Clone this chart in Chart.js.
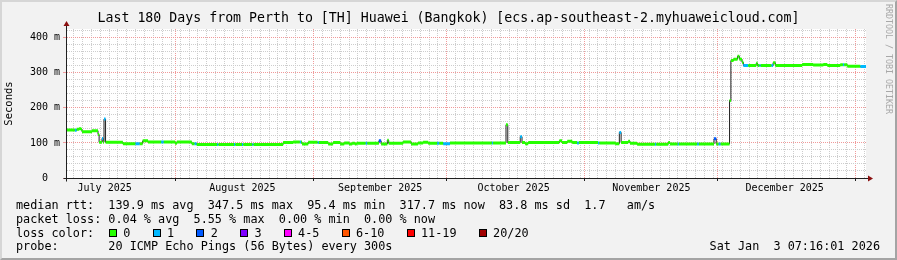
<!DOCTYPE html>
<html>
<head>
<meta charset="utf-8">
<script src="https://cdn.jsdelivr.net/npm/chart.js@4.4.1/dist/chart.umd.min.js"></script>
<style>
  html, body { margin: 0; padding: 0; }
  body { width: 897px; height: 260px; position: relative; overflow: hidden; background: #f2f2f2;
         font-family: 'DejaVu Sans Mono', monospace; color: #000; }
  #frame { position: absolute; left: 0; top: 0; width: 897px; height: 260px; box-sizing: border-box;
           border: 2px solid; border-color: #d6d6d6 #a4a4a4 #a4a4a4 #d6d6d6; }
  #chart { position: absolute; left: 0; top: 0; }
  .txt { position: absolute; white-space: pre; }
  #title { left: 0; top: 9px; width: 897px; text-align: center; font-size: 13.25px; line-height: 18px; }
  #mark { left: 884px; top: 4px; writing-mode: vertical-rl; font-size: 8.3px; line-height: 9px; color: #a8a8a8; }
  .leg { left: 16px; font-size: 11.8px; line-height: 14px; }
  .sw { position: absolute; width: 8px; height: 8px; box-sizing: border-box; border: 1px solid #000; }
</style>
</head>
<body>
<div id="frame"></div>
<canvas id="chart" width="897" height="260"></canvas>
<div id="title" class="txt">Last 180 Days from Perth to [TH] Huawei (Bangkok) [ecs.ap-southeast-2.myhuaweicloud.com]</div>
<div id="mark" class="txt">RRDTOOL / TOBI OETIKER</div>
<div id="legend"></div>
<script>
  // steps of the median rtt (day from start of graph, ms, lost pings out of 20)
  var stepDay = [0.0, 2.0, 2.4, 3.0, 3.3, 3.6, 5.85, 7.2, 7.45, 8.1, 8.35, 8.55, 8.9, 12.8, 15.6, 16.6, 17.25, 18.45,
    21.4, 22.0, 24.55, 24.95, 28.3, 28.9, 29.4, 34.0, 34.3, 37.8, 38.1, 39.6, 39.9, 41.9, 42.2, 48.85, 51.1, 52.6,
    52.9, 53.1, 54.5, 56.6, 56.9, 59.0, 60.1, 61.7, 62.6, 63.7, 64.4, 65.0, 65.4, 67.4, 67.8, 70.4, 70.9, 72.3,
    72.6, 75.85, 77.65, 79.2, 80.35, 81.5, 83.5, 84.0, 84.85, 86.4, 95.8, 96.1, 99.0, 99.4, 102.2, 102.6, 103.3,
    104.0, 111.0, 111.6, 112.8, 113.9, 115.0, 115.4, 119.7, 120.0, 123.6, 124.5, 124.9, 126.5, 126.9, 128.5, 132.5,
    132.8, 135.5, 135.9, 137.6, 137.9, 142.0, 142.4, 145.8, 146.3, 146.8, 147.3, 149.3, 149.6, 150.2, 151.1, 151.5,
    152.1, 152.4, 153.5, 155.3, 155.6, 156.0, 156.3, 158.7, 159.1, 159.6, 165.65, 168.1, 170.4, 171.3, 174.2, 174.8,
    175.1, 175.8, 178.7];
  var medianMs = [137, 136, 139, 141, 139, 132, 135, 124, 102, 113, 102, 168, 102, 98, 98, 98, 106, 103,
    103, 103, 99, 103, 98, 98, 95.5, 95.5, 95.5, 95.5, 95.5, 95.5, 95.5, 95.5, 95.5, 101, 103, 103,
    103, 97, 102, 101, 101, 97, 101, 97, 100, 97, 99, 97, 99, 99, 99, 106, 97, 108,
    99, 103, 97, 100, 102, 99, 99, 99, 98, 100, 100, 100, 152, 101, 118, 101, 98,
    101, 106, 101, 105, 101, 100, 101, 100, 100, 98, 130, 101, 105, 99, 96, 96,
    96, 101, 97, 97, 97, 97, 97, 112, 97, 97, 97, 221, 335, 339, 347.5, 339,
    330, 321, 321, 327, 321, 321, 321, 321, 329, 321, 324, 322, 324, 321, 323, 323,
    323, 319, 317.7];
  var lossPings = [0, 1, 0, 0, 0, 0, 0, 0, 0, 1, 0, 1, 0, 0, 1, 0, 0, 0,
    1, 0, 0, 0, 0, 1, 0, 1, 0, 1, 0, 1, 0, 1, 0, 0, 0, 1,
    0, 0, 0, 1, 0, 0, 0, 0, 0, 0, 0, 0, 0, 1, 0, 2, 0, 0,
    0, 0, 0, 0, 0, 0, 1, 0, 1, 0, 1, 0, 0, 0, 1, 0, 0,
    0, 0, 0, 0, 0, 1, 0, 1, 0, 0, 1, 0, 0, 0, 0, 1,
    0, 0, 0, 1, 0, 1, 0, 2, 0, 1, 0, 0, 0, 0, 0, 0,
    0, 1, 0, 0, 0, 1, 0, 1, 0, 0, 0, 0, 0, 0, 0, 1,
    0, 0, 1];
  var endDay = 180;

  var lossLabels = ['0', '1', '2', '3', '4-5', '6-10', '11-19', '20/20'];
  var lossColors = ['#26ff00', '#00b8ff', '#0059ff', '#7e00ff', '#ff00ff', '#ff5500', '#ff0000', '#a10000'];

  var yLabelValues = [0, 100, 200, 300, 400];
  var yLabelText = ['0  ', '100 m', '200 m', '300 m', '400 m'];
  var monthNames = ['July 2025', 'August 2025', 'September 2025', 'October 2025', 'November 2025', 'December 2025'];

  var statLines = [
    'median rtt:  139.9 ms avg  347.5 ms max  95.4 ms min  317.7 ms now  83.8 ms sd  1.7   am/s',
    'packet loss: 0.04 % avg  5.55 % max  0.00 % min  0.00 % now',
    'loss color:',
    'probe:       20 ICMP Echo Pings (56 Bytes) every 300s'
  ];
  var stampText = 'Sat Jan  3 07:16:01 2026';

  // time axis: days since graph start
  var startMs = Date.UTC(2025, 6, 7, 7, 16);
  function dayOf(y, m, d) { return (Date.UTC(y, m - 1, d) - startMs) / 86400000; }

  var monthStarts = [dayOf(2025, 8, 1), dayOf(2025, 9, 1), dayOf(2025, 10, 1), dayOf(2025, 11, 1), dayOf(2025, 12, 1), dayOf(2026, 1, 1)];
  var labelDays = [dayOf(2025, 7, 16), dayOf(2025, 8, 16), dayOf(2025, 9, 16), dayOf(2025, 10, 16), dayOf(2025, 11, 16), dayOf(2025, 12, 16)];
  var minorDays = [];
  var sep1 = dayOf(2025, 9, 1);
  for (var k = -30; k <= 70; k++) {
    var v = sep1 + 2 * k;
    if (v > 0 && v < endDay) minorDays.push(v);
  }
  var xLabelMap = {};
  labelDays.forEach(function (d, i) { xLabelMap[String(d)] = monthNames[i]; });
  var monthSet = {};
  monthStarts.forEach(function (d) { monthSet[String(d)] = true; });
  var minorSet = {};
  minorDays.forEach(function (d) { minorSet[String(d)] = true; });
  var xTicks = Array.from(new Set(minorDays.concat(monthStarts, labelDays))).sort(function (a, b) { return a - b; });

  var yTicks = [];
  for (var t = 0; t <= 420; t += 20) yTicks.push(t);
  var yLabelMap = {};
  yLabelValues.forEach(function (v, i) { yLabelMap[v] = yLabelText[i]; });

  function binOf(loss) {
    if (loss <= 3) return loss;
    if (loss <= 5) return 4;
    if (loss <= 10) return 5;
    if (loss <= 19) return 6;
    return 7;
  }

  // thin dark median line (shows the vertical jumps)
  var medianLine = stepDay.map(function (d, i) { return { x: d, y: medianMs[i] }; });
  medianLine.push({ x: endDay, y: medianMs[medianMs.length - 1] });

  // thick loss-coloured horizontal pieces, one dataset per loss colour
  var colourSets = lossColors.map(function () { return []; });
  stepDay.forEach(function (d, i) {
    var next = i + 1 < stepDay.length ? stepDay[i + 1] : endDay;
    var set = colourSets[binOf(lossPings[i])];
    set.push({ x: d, y: medianMs[i] }, { x: next, y: medianMs[i] }, { x: next, y: null });
  });

  var datasets = [];
  colourSets.forEach(function (pts, b) {
    if (!pts.length) return;
    datasets.push({ data: pts, borderColor: lossColors[b], borderWidth: 3, pointRadius: 0, spanGaps: false, order: 1 });
  });
  // 'before' in Chart.js = run flat to the next point, then jump
  datasets.push({ data: medianLine, stepped: 'before', borderColor: '#202020', borderWidth: 1, pointRadius: 0, order: 2 });

  var plotBg = {
    id: 'plotBg',
    beforeDraw: function (chart) {
      var a = chart.chartArea, ctx = chart.ctx;
      ctx.save();
      ctx.fillStyle = '#ffffff';
      ctx.fillRect(a.left, a.top, a.right - a.left, a.bottom - a.top);
      ctx.restore();
    }
  };
  var axisArrows = {
    id: 'axisArrows',
    afterDraw: function (chart) {
      var a = chart.chartArea, ctx = chart.ctx;
      var lx = Math.round(a.left) + 0.5, by = Math.round(a.bottom) + 0.5;
      ctx.save();
      ctx.strokeStyle = '#202020';
      ctx.lineWidth = 1;
      ctx.beginPath();
      ctx.moveTo(lx, by + 3); ctx.lineTo(lx, a.top - 4);
      ctx.moveTo(lx - 3, by); ctx.lineTo(a.right + 3, by);
      ctx.stroke();
      ctx.fillStyle = '#8b1010';
      ctx.beginPath();
      ctx.moveTo(lx, a.top - 8); ctx.lineTo(lx - 3, a.top - 3); ctx.lineTo(lx + 3, a.top - 3); ctx.closePath();
      ctx.fill();
      ctx.beginPath();
      ctx.moveTo(a.right + 7, by); ctx.lineTo(a.right + 2, by - 3); ctx.lineTo(a.right + 2, by + 3); ctx.closePath();
      ctx.fill();
      ctx.restore();
    }
  };

  var tickFont = { family: 'DejaVu Sans Mono', size: 10 };

  new Chart(document.getElementById('chart'), {
    type: 'line',
    data: { datasets: datasets },
    options: {
      responsive: false,
      animation: false,
      devicePixelRatio: 1,
      layout: { padding: { left: 0, top: 29, right: 31, bottom: 62 } },
      plugins: { legend: { display: false }, tooltip: { enabled: false } },
      scales: {
        x: {
          type: 'linear', min: 0, max: endDay,
          afterBuildTicks: function (axis) { axis.ticks = xTicks.map(function (v) { return { value: v }; }); },
          afterFit: function (s) { s.height = 20; },
          ticks: {
            autoSkip: false, maxRotation: 0, minRotation: 0, padding: 1, color: '#000', font: tickFont,
            callback: function (v) { return xLabelMap[String(v)] || ''; }
          },
          grid: {
            tickLength: 3,
            color: function (c) {
              var key = String(c.tick && c.tick.value);
              if (monthSet[key]) return '#f09a9a';
              if (minorSet[key]) return '#cdcdcd';
              return 'rgba(0,0,0,0)';
            },
            tickColor: function (c) {
              return monthSet[String(c.tick && c.tick.value)] ? '#202020' : 'rgba(0,0,0,0)';
            }
          },
          border: { display: true, color: '#202020', width: 1, dash: [1, 1] }
        },
        y: {
          type: 'linear', min: 0, max: 425,
          afterBuildTicks: function (axis) { axis.ticks = yTicks.map(function (v) { return { value: v }; }); },
          afterFit: function (s) { s.width = 66; },
          ticks: {
            autoSkip: false, padding: 3, color: '#000', font: tickFont,
            callback: function (v) { return yLabelMap[v] || ''; }
          },
          grid: {
            tickLength: 3,
            color: function (c) { return c.tick && c.tick.value % 100 === 0 ? '#f09a9a' : '#cdcdcd'; },
            tickColor: function (c) { return c.tick && c.tick.value % 100 === 0 ? '#f09a9a' : 'rgba(0,0,0,0)'; }
          },
          border: { display: true, color: '#202020', width: 1, dash: [1, 1] },
          title: {
            display: true, text: 'Seconds', color: '#000',
            font: { family: 'DejaVu Sans Mono', size: 10.5 },
            padding: { top: 3, bottom: 0 }
          }
        }
      }
    },
    plugins: [plotBg, axisArrows]
  });

  // text legend under the graph
  var legend = document.getElementById('legend');
  var lineTops = [198.3, 212.0, 225.7, 239.4];
  statLines.forEach(function (s, i) {
    var el = document.createElement('div');
    el.className = 'txt leg';
    el.style.top = lineTops[i] + 'px';
    el.textContent = s;
    legend.appendChild(el);
  });
  var sx = 109;
  lossLabels.forEach(function (lab, i) {
    var sw = document.createElement('div');
    sw.className = 'sw';
    sw.style.left = sx + 'px';
    sw.style.top = '229px';
    sw.style.background = lossColors[i];
    legend.appendChild(sw);
    var el = document.createElement('div');
    el.className = 'txt leg';
    el.style.left = (sx + 14.3) + 'px';
    el.style.top = lineTops[2] + 'px';
    el.textContent = lab;
    legend.appendChild(el);
    sx += 14.3 + lab.length * 7.1 + 22.3;
  });
  var stamp = document.createElement('div');
  stamp.className = 'txt leg';
  stamp.style.left = 'auto';
  stamp.style.right = '17px';
  stamp.style.top = lineTops[3] + 'px';
  stamp.textContent = stampText;
  legend.appendChild(stamp);
</script>
</body>
</html>
